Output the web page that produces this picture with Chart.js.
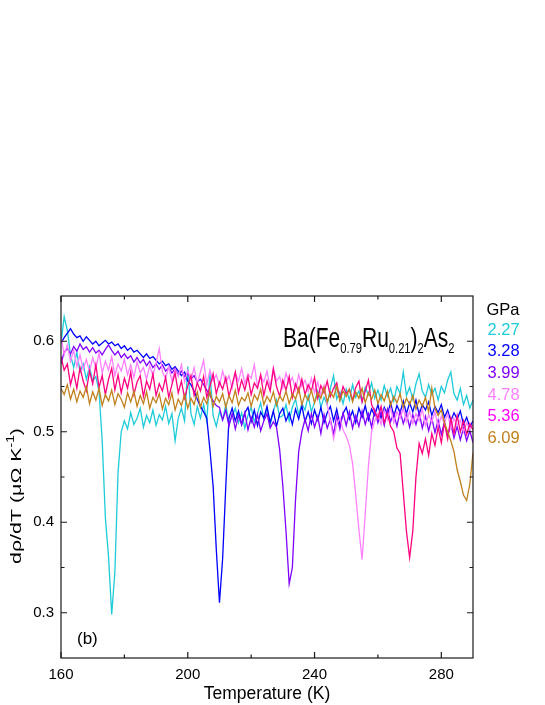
<!DOCTYPE html>
<html>
<head>
<meta charset="utf-8">
<script src="https://cdn.jsdelivr.net/npm/chart.js@4/dist/chart.umd.min.js"></script>
<style>
  html, body { margin: 0; padding: 0; background: #fff; }
  canvas { display: block; }
</style>
</head>
<body>
<canvas id="chart" width="545" height="705"></canvas>
<script>
// temperature grid (K)
const temps = [
  160, 161, 162, 163, 164, 165, 166, 167, 168, 169,
  170, 171, 172, 173, 174, 175, 176, 177, 178, 179,
  180, 181, 182, 183, 184, 185, 186, 187, 188, 189,
  190, 191, 192, 193, 194, 195, 196, 197, 198, 199,
  200, 201, 202, 203, 204, 205, 206, 207, 208, 209,
  210, 211, 212, 213, 214, 215, 216, 217, 218, 219,
  220, 221, 222, 223, 224, 225, 226, 227, 228, 229,
  230, 231, 232, 233, 234, 235, 236, 237, 238, 239,
  240, 241, 242, 243, 244, 245, 246, 247, 248, 249,
  250, 251, 252, 253, 254, 255, 256, 257, 258, 259,
  260, 261, 262, 263, 264, 265, 266, 267, 268, 269,
  270, 271, 272, 273, 274, 275, 276, 277, 278, 279,
  280, 281, 282, 283, 284, 285, 286, 287, 288, 289, 290
];

// d rho / dT values, one array per pressure
const p227 = [
  0.598, 0.627, 0.612, 0.585, 0.571, 0.588, 0.566, 0.575, 0.558, 0.572,
  0.556, 0.561, 0.545, 0.490, 0.405, 0.362, 0.298, 0.345, 0.455, 0.500,
  0.512, 0.503, 0.521, 0.508, 0.515, 0.526, 0.505, 0.518, 0.510, 0.524,
  0.507, 0.519, 0.513, 0.528, 0.509, 0.520, 0.490, 0.515, 0.526, 0.512,
  0.572, 0.520, 0.508, 0.528, 0.515, 0.530, 0.512, 0.565, 0.518, 0.506,
  0.522, 0.513, 0.530, 0.509, 0.517, 0.526, 0.510, 0.521, 0.504, 0.518,
  0.527, 0.511, 0.520, 0.532, 0.514, 0.525, 0.508, 0.522, 0.535, 0.516,
  0.518, 0.530, 0.512, 0.527, 0.536, 0.519, 0.531, 0.524, 0.540, 0.522,
  0.533, 0.545, 0.527, 0.538, 0.530, 0.548, 0.562, 0.536, 0.544, 0.531,
  0.547, 0.535, 0.552, 0.538, 0.545, 0.533, 0.549, 0.541, 0.554, 0.537,
  0.546, 0.535, 0.551, 0.539, 0.548, 0.534, 0.550, 0.542, 0.566, 0.540,
  0.549, 0.536, 0.553, 0.564, 0.545, 0.538, 0.552, 0.541, 0.548, 0.535,
  0.550, 0.543, 0.557, 0.566, 0.542, 0.535, 0.548, 0.530, 0.540, 0.526, 0.535
];
const p328 = [
  0.598, 0.604, 0.609, 0.614, 0.608, 0.604, 0.606, 0.600, 0.605, 0.601,
  0.597, 0.600, 0.595, 0.598, 0.601, 0.597, 0.599, 0.595, 0.597, 0.592,
  0.595, 0.590, 0.593, 0.588, 0.590, 0.586, 0.582, 0.586, 0.581, 0.583,
  0.579, 0.575, 0.578, 0.573, 0.575, 0.569, 0.572, 0.567, 0.562, 0.566,
  0.556, 0.552, 0.545, 0.536, 0.528, 0.522, 0.515, 0.480, 0.440, 0.370,
  0.311, 0.360, 0.440, 0.515, 0.526, 0.512, 0.523, 0.508, 0.521, 0.527,
  0.511, 0.524, 0.507, 0.522, 0.515, 0.528, 0.510, 0.523, 0.506, 0.520,
  0.526, 0.512, 0.521, 0.508, 0.525, 0.514, 0.529, 0.511, 0.522, 0.509,
  0.524, 0.513, 0.527, 0.510, 0.521, 0.528, 0.512, 0.525, 0.508, 0.520,
  0.527, 0.514, 0.523, 0.510, 0.526, 0.516, 0.529, 0.513, 0.525, 0.518,
  0.530, 0.515, 0.527, 0.519, 0.532, 0.517, 0.529, 0.521, 0.534, 0.520,
  0.532, 0.522, 0.535, 0.519, 0.530, 0.524, 0.533, 0.518, 0.528, 0.521,
  0.530, 0.516, 0.524, 0.512, 0.521, 0.514, 0.523, 0.508, 0.516, 0.505, 0.512
];
const p399 = [
  0.575, 0.588, 0.592, 0.586, 0.594, 0.589, 0.597, 0.591, 0.594, 0.588,
  0.593, 0.587, 0.590, 0.585, 0.591, 0.596, 0.590, 0.585, 0.589, 0.582,
  0.586, 0.581, 0.584, 0.577, 0.582, 0.576, 0.580, 0.573, 0.578, 0.571,
  0.575, 0.569, 0.574, 0.567, 0.571, 0.565, 0.570, 0.563, 0.567, 0.561,
  0.564, 0.558, 0.562, 0.555, 0.558, 0.552, 0.546, 0.540, 0.534, 0.529,
  0.527, 0.513, 0.524, 0.506, 0.520, 0.503, 0.518, 0.508, 0.521, 0.502,
  0.516, 0.505, 0.519, 0.501, 0.512, 0.520, 0.504, 0.511, 0.505, 0.480,
  0.440, 0.390, 0.332, 0.350, 0.425, 0.478, 0.500, 0.514, 0.501, 0.520,
  0.505, 0.517, 0.498, 0.519, 0.504, 0.514, 0.497, 0.518, 0.503, 0.521,
  0.507, 0.522, 0.504, 0.518, 0.506, 0.523, 0.508, 0.520, 0.505, 0.524,
  0.510, 0.522, 0.507, 0.525, 0.511, 0.521, 0.506, 0.523, 0.509, 0.520,
  0.505, 0.519, 0.508, 0.522, 0.504, 0.517, 0.501, 0.515, 0.499, 0.513,
  0.497, 0.511, 0.495, 0.509, 0.493, 0.506, 0.491, 0.504, 0.490, 0.501, 0.488
];
const p478 = [
  0.605, 0.585, 0.596, 0.578, 0.590, 0.572, 0.585, 0.569, 0.580, 0.566,
  0.582, 0.570, 0.587, 0.565, 0.578, 0.568, 0.583, 0.562, 0.575, 0.567,
  0.580, 0.563, 0.574, 0.560, 0.577, 0.565, 0.571, 0.558, 0.573, 0.562,
  0.576, 0.592, 0.566, 0.559, 0.572, 0.556, 0.569, 0.561, 0.574, 0.555,
  0.568, 0.557, 0.571, 0.553, 0.566, 0.579, 0.552, 0.568, 0.556, 0.563,
  0.551, 0.567, 0.554, 0.562, 0.548, 0.565, 0.556, 0.570, 0.553, 0.564,
  0.559, 0.574, 0.550, 0.562, 0.555, 0.567, 0.549, 0.571, 0.556, 0.561,
  0.548, 0.565, 0.553, 0.560, 0.546, 0.563, 0.550, 0.557, 0.545, 0.559,
  0.543, 0.555, 0.540, 0.551, 0.530, 0.512, 0.492, 0.508, 0.515, 0.502,
  0.495, 0.485, 0.465, 0.430, 0.392, 0.359, 0.410, 0.462, 0.500, 0.512,
  0.520, 0.508, 0.524, 0.513, 0.527, 0.510, 0.522, 0.515, 0.526, 0.511,
  0.523, 0.509, 0.520, 0.512, 0.525, 0.507, 0.519, 0.511, 0.522, 0.506,
  0.517, 0.509, 0.520, 0.504, 0.515, 0.507, 0.513, 0.500, 0.510, 0.503, 0.508
];
const p536 = [
  0.583, 0.568, 0.575, 0.552, 0.566, 0.548, 0.571, 0.556, 0.545, 0.567,
  0.553, 0.574, 0.549, 0.562, 0.541, 0.558, 0.570, 0.546, 0.563, 0.543,
  0.559, 0.548, 0.566, 0.541, 0.555, 0.562, 0.539, 0.556, 0.547, 0.564,
  0.540, 0.553, 0.545, 0.560, 0.538, 0.552, 0.565, 0.543, 0.556, 0.537,
  0.551, 0.562, 0.540, 0.554, 0.545, 0.561, 0.538, 0.550, 0.564, 0.542,
  0.555, 0.547, 0.560, 0.539, 0.552, 0.566, 0.543, 0.557, 0.546, 0.561,
  0.541, 0.554, 0.548, 0.563, 0.540, 0.556, 0.545, 0.569, 0.550, 0.539,
  0.557, 0.546, 0.561, 0.538, 0.553, 0.544, 0.558, 0.541, 0.552, 0.545,
  0.560, 0.537, 0.551, 0.543, 0.556, 0.539, 0.548, 0.554, 0.536, 0.550,
  0.542, 0.547, 0.535, 0.549, 0.556, 0.533, 0.545, 0.557, 0.530, 0.522,
  0.515, 0.528, 0.510, 0.520, 0.506, 0.500, 0.482, 0.476, 0.433, 0.390,
  0.361, 0.390, 0.450, 0.487, 0.476, 0.492, 0.474, 0.498, 0.485, 0.505,
  0.488, 0.510, 0.492, 0.515, 0.498, 0.518, 0.500, 0.512, 0.497, 0.509, 0.502
];
const p609 = [
  0.548, 0.541, 0.552, 0.536, 0.547, 0.533, 0.545, 0.538, 0.550, 0.531,
  0.544, 0.535, 0.548, 0.529, 0.541, 0.534, 0.546, 0.530, 0.542, 0.536,
  0.527, 0.543, 0.533, 0.545, 0.528, 0.540, 0.531, 0.544, 0.526, 0.538,
  0.532, 0.542, 0.525, 0.537, 0.530, 0.543, 0.524, 0.536, 0.529, 0.541,
  0.526, 0.537, 0.530, 0.544, 0.527, 0.538, 0.531, 0.545, 0.528, 0.539,
  0.533, 0.542, 0.527, 0.540, 0.532, 0.546, 0.529, 0.538, 0.534, 0.543,
  0.528, 0.541, 0.535, 0.547, 0.530, 0.539, 0.533, 0.544, 0.529, 0.540,
  0.534, 0.545, 0.531, 0.542, 0.536, 0.548, 0.530, 0.541, 0.535, 0.546,
  0.532, 0.543, 0.537, 0.549, 0.533, 0.544, 0.538, 0.550, 0.534, 0.545,
  0.539, 0.547, 0.533, 0.544, 0.537, 0.548, 0.532, 0.543, 0.536, 0.546,
  0.531, 0.541, 0.534, 0.545, 0.529, 0.539, 0.532, 0.542, 0.527, 0.537,
  0.530, 0.540, 0.525, 0.535, 0.528, 0.538, 0.522, 0.548, 0.526, 0.518,
  0.524, 0.510, 0.500, 0.490, 0.478, 0.458, 0.445, 0.430, 0.424, 0.442, 0.477
];

const pressures = ['2.27', '3.28', '3.99', '4.78', '5.36', '6.09'];
const series = [p227, p328, p399, p478, p536, p609];
const lineColors = ['#1ecbd9', '#0000ff', '#8000ff', '#ff80ff', '#ff0080', '#c0801c'];
const labelColors = ['#1ecbd9', '#0000ff', '#8000ff', '#ff80ff', '#ff00ff', '#c0801c'];

const xMajor = [160, 200, 240, 280];
const xMinor = [180, 220, 260];
const yMajor = [0.3, 0.4, 0.5, 0.6];
const yMinor = [0.35, 0.45, 0.55];

const FONT = '"Liberation Sans", Arial, Helvetica, sans-serif';

// draw a run of [text, kind] pieces (kind 0 normal, 1 subscript, -1 superscript)
function drawPieces(ctx, pieces, x, size, subSize, subShift) {
  pieces.forEach(([txt, kind]) => {
    ctx.font = (kind !== 0 ? subSize : size) + 'px ' + FONT;
    ctx.fillText(txt, x, kind === 1 ? subShift : kind === -1 ? -subShift : 0);
    x += ctx.measureText(txt).width;
  });
  return x;
}
function piecesWidth(ctx, pieces, size, subSize) {
  let w = 0;
  pieces.forEach(([txt, kind]) => {
    ctx.font = (kind !== 0 ? subSize : size) + 'px ' + FONT;
    w += ctx.measureText(txt).width;
  });
  return w;
}

const frame = {
  id: 'frame',
  afterDatasetsDraw(chart) {
    const { ctx, chartArea: a, scales: { x, y } } = chart;
    ctx.save();
    ctx.strokeStyle = '#1a1a1a';
    ctx.lineWidth = 1.2;
    ctx.strokeRect(a.left, a.top, a.right - a.left, a.bottom - a.top);
    ctx.beginPath();
    const tick = (vals, len, isX) => vals.forEach(v => {
      if (isX) {
        const px = x.getPixelForValue(v);
        ctx.moveTo(px, a.bottom); ctx.lineTo(px, a.bottom - len);
        ctx.moveTo(px, a.top); ctx.lineTo(px, a.top + len);
      } else {
        const py = y.getPixelForValue(v);
        ctx.moveTo(a.left, py); ctx.lineTo(a.left + len, py);
        ctx.moveTo(a.right, py); ctx.lineTo(a.right - len, py);
      }
    });
    tick(xMajor, 6, true); tick(xMinor, 3.5, true);
    tick(yMajor, 6, false); tick(yMinor, 3.5, false);
    ctx.stroke();

    ctx.fillStyle = '#000';
    ctx.textBaseline = 'alphabetic';

    // x title
    ctx.font = '17.5px ' + FONT;
    ctx.textAlign = 'center';
    ctx.fillText('Temperature (K)', (a.left + a.right) / 2, 699);

    // y title (rotated, stretched along its length)
    ctx.textAlign = 'left';
    const yPieces = [['d\u03c1/dT (\u03bc\u03a9 K', 0], ['-1', -1], [')', 0]];
    ctx.save();
    ctx.translate(20.5, 496);
    ctx.rotate(-Math.PI / 2);
    ctx.scale(1.38, 1);
    const yw = piecesWidth(ctx, yPieces, 15.5, 10);
    drawPieces(ctx, yPieces, -yw / 2, 15.5, 10, 7);
    ctx.restore();

    // formula
    const tPieces = [['Ba(Fe', 0], ['0.79', 1], ['Ru', 0], ['0.21', 1], [')', 0], ['2', 1], ['As', 0], ['2', 1]];
    ctx.save();
    ctx.translate(283, 346.5);
    ctx.scale(1, 1.35);
    drawPieces(ctx, tPieces, 0, 21, 11.2, 4.8);
    ctx.restore();

    // (b)
    ctx.font = '17px ' + FONT;
    ctx.fillText('(b)', 77, 644);

    // pressure legend
    ctx.font = '16.5px ' + FONT;
    ctx.fillText('GPa', 486.5, 315);
    pressures.forEach((p, i) => {
      ctx.fillStyle = labelColors[i];
      ctx.fillText(p, 487.5, 334.5 + i * 21.7);
    });
    ctx.restore();
  }
};

new Chart(document.getElementById('chart'), {
  type: 'line',
  data: {
    datasets: series.map((vals, i) => ({
      label: pressures[i] + ' GPa',
      data: temps.map((t, k) => ({ x: t, y: vals[k] })),
      borderColor: lineColors[i],
      borderWidth: 1.3,
      pointRadius: 0,
      tension: 0,
      fill: false,
      order: series.length - i
    }))
  },
  options: {
    responsive: false,
    animation: false,
    devicePixelRatio: 1,
    layout: { padding: { left: 0, right: 72, top: 296, bottom: 0 } },
    plugins: { legend: { display: false }, tooltip: { enabled: false } },
    scales: {
      x: {
        type: 'linear', min: 160, max: 290,
        grid: { display: false, drawTicks: false },
        border: { display: false },
        afterBuildTicks: s => { s.ticks = xMajor.map(v => ({ value: v })); },
        afterFit: s => { s.height = 47; },
        ticks: { padding: 8, color: '#000', font: { size: 15, family: FONT }, maxRotation: 0 }
      },
      y: {
        type: 'linear', min: 0.25, max: 0.65,
        grid: { display: false, drawTicks: false },
        border: { display: false },
        afterBuildTicks: s => { s.ticks = yMajor.map(v => ({ value: v })); },
        afterFit: s => { s.width = 61; },
        ticks: { padding: 7, color: '#000', font: { size: 15, family: FONT }, callback: v => v.toFixed(1) }
      }
    }
  },
  plugins: [frame]
});
</script>
</body>
</html>
